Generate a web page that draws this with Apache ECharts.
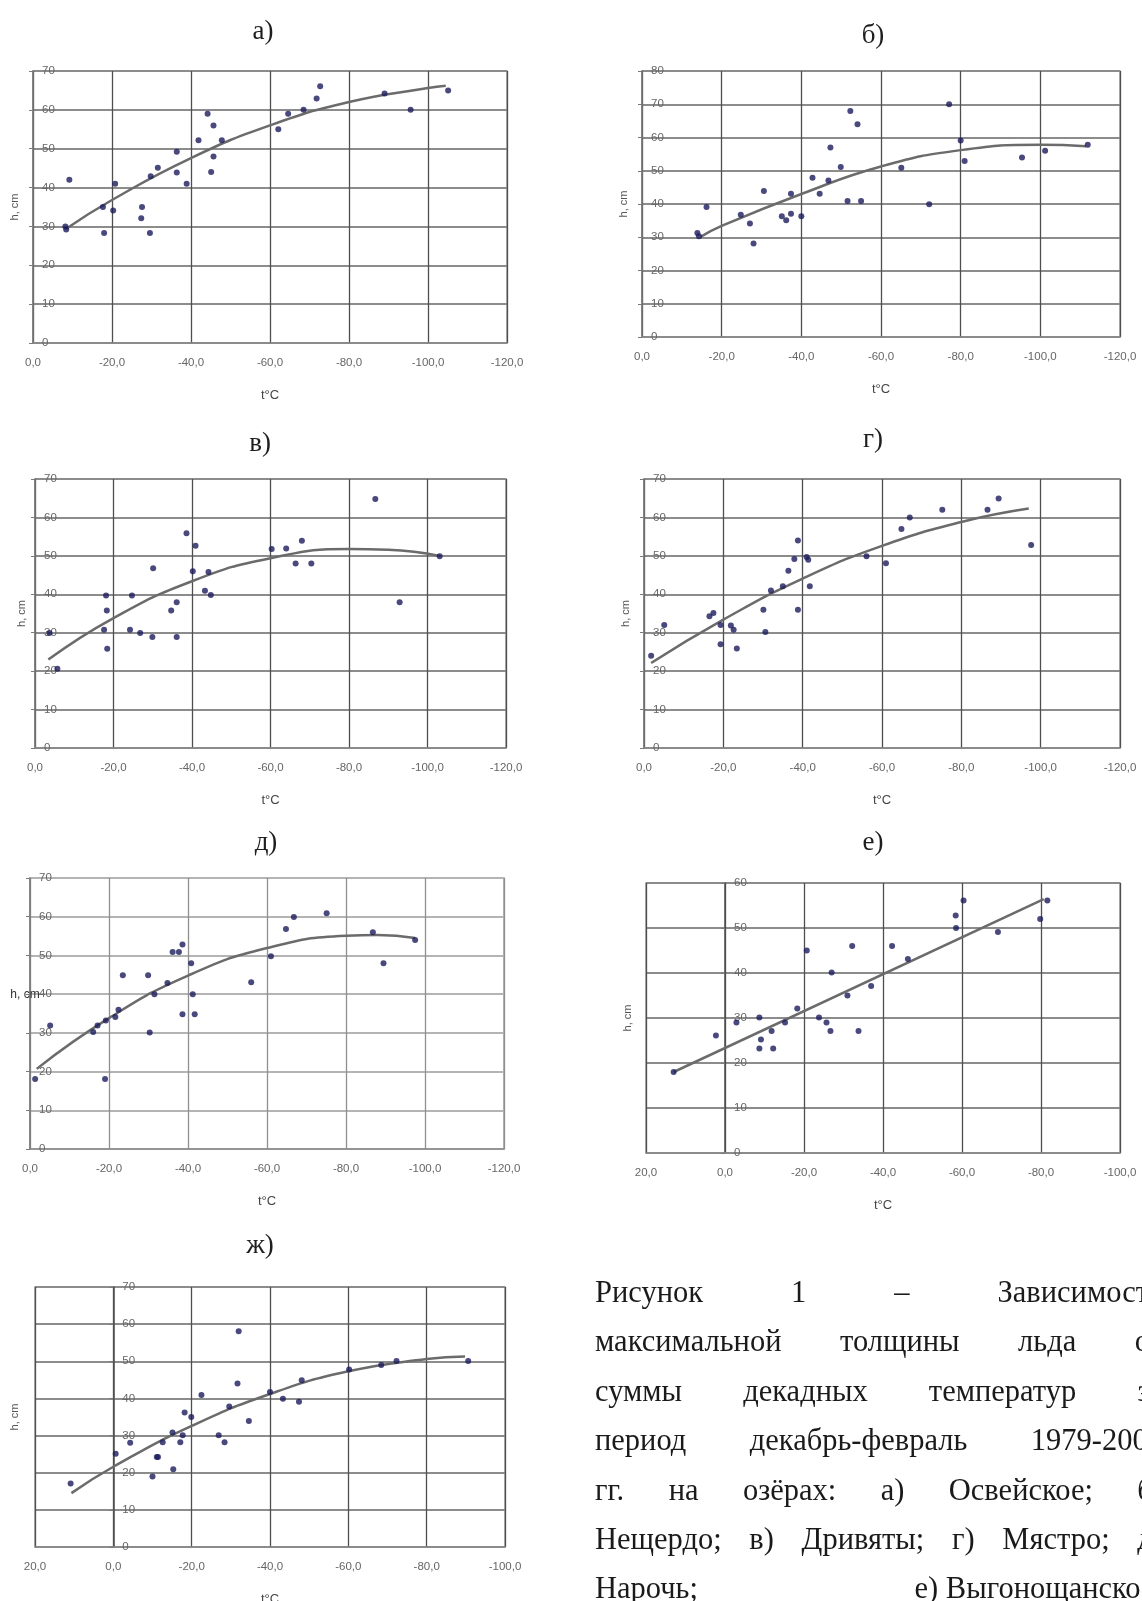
<!DOCTYPE html>
<html>
<head>
<meta charset="utf-8">
<script src="https://cdn.jsdelivr.net/npm/echarts@6/dist/echarts.min.js"></script>
<style>
  html, body { margin: 0; padding: 0; background: #fff; overflow: hidden; }
  #chart { position: absolute; left: 0; top: 0; width: 1142px; height: 1601px; }
  #caption {
    position: absolute; left: 595px; top: 1268px; width: 568px;
    font-family: "Liberation Serif", "Times New Roman", serif;
    font-size: 30.5px; color: #1a1a1a;
  }
  #caption div { height: 49.4px; line-height: 49.4px; text-align: justify; text-align-last: justify; }
  #caption span { display: inline-block; }
</style>
</head>
<body>
<div id="chart"></div>
<div id="caption">
  <div>Рисунок 1 – Зависимость</div>
  <div>максимальной толщины льда от</div>
  <div>суммы декадных температур за</div>
  <div>период декабрь-февраль 1979-2005</div>
  <div>гг. на озёрах: а) Освейское; б)</div>
  <div>Нещердо; в) Дривяты; г) Мястро; д)</div>
  <div>Нарочь; <span>е) Выгонощанское;</span></div>
</div>
<script>
// Max ice thickness h (cm) against the sum of ten-day air temperatures t (°C), Dec–Feb.

const osveiPts = [[-8.2,30.0],[-8.4,29.2],[-9.2,42.0],[-18.0,28.3],[-17.7,35.0],[-20.3,34.1],[-20.8,41.0],
  [-27.6,35.0],[-27.4,32.1],[-29.6,28.3],[-29.8,42.9],[-31.6,45.1],[-36.4,49.2],[-36.4,43.9],[-38.9,41.0],
  [-41.9,52.2],[-44.2,59.0],[-45.7,56.0],[-45.1,44.0],[-45.7,48.0],[-47.8,52.2],[-62.1,55.0],[-64.6,59.0],
  [-68.5,60.0],[-71.8,62.9],[-72.7,66.1],[-89.0,64.2],[-95.6,60.0],[-105.1,65.0]];
const osveiTrend = [[-8.4,29.4],[-20,36.8],[-40,47.6],[-60,56.0],[-80,62.0],[-100,65.6],[-104.5,66.2]];

const nescherdoPts = [[-13.9,31.3],[-14.3,30.3],[-16.2,39.1],[-24.8,36.8],[-27.1,34.1],[-28.0,28.1],[-30.6,43.9],
  [-35.1,36.3],[-36.2,35.1],[-37.4,37.1],[-37.4,43.1],[-40.0,36.3],[-42.8,47.9],[-44.6,43.1],[-46.8,47.1],
  [-47.3,57.0],[-49.9,51.1],[-51.6,40.9],[-52.3,68.0],[-54.1,64.0],[-55.0,40.9],[-65.1,50.9],[-72.1,39.9],
  [-77.1,70.0],[-80.0,59.1],[-81.0,52.9],[-95.4,54.0],[-101.2,56.0],[-111.9,57.8]];
const nescherdoTrend = [[-14.7,30.1],[-20,33.4],[-40,43.0],[-60,51.3],[-80,56.2],[-100,57.8],[-111.5,57.4]];

const drivyatyPts = [[-3.7,29.9],[-5.7,20.6],[-17.6,30.8],[-18.1,39.7],[-18.3,35.8],[-18.4,25.8],[-24.2,30.8],
  [-24.7,39.7],[-26.8,29.9],[-29.9,28.9],[-30.1,46.8],[-34.7,35.8],[-36.1,37.9],[-36.1,28.9],[-38.6,55.9],
  [-40.2,46.0],[-40.9,52.6],[-43.3,40.9],[-44.2,45.8],[-44.8,39.8],[-60.3,51.8],[-64.0,51.9],[-66.4,48.0],
  [-68.0,53.9],[-70.4,48.0],[-86.7,64.8],[-92.9,37.9],[-103.1,49.9]];
const drivyatyTrend = [[-3.4,23.0],[-20,33.8],[-40,43.4],[-60,49.4],[-80,51.8],[-90,51.6],[-103.1,50.0]];

const myastroPts = [[-1.8,24.0],[-5.1,32.0],[-16.5,34.3],[-17.5,35.1],[-19.3,32.0],[-19.3,27.0],[-21.9,31.9],
  [-22.6,30.8],[-23.4,25.9],[-30.1,36.0],[-30.6,30.2],[-32.0,41.0],[-35.0,42.1],[-36.4,46.1],[-37.9,49.2],
  [-38.8,54.0],[-38.8,36.0],[-41.0,49.7],[-41.4,49.0],[-41.8,42.1],[-56.1,49.9],[-61.0,48.1],[-64.9,57.0],
  [-67.0,60.0],[-75.2,62.0],[-86.6,62.0],[-89.4,64.9],[-97.6,52.8]];
const myastroTrend = [[-1.8,22.1],[-20,33.4],[-40,44.1],[-60,52.6],[-80,58.8],[-97,62.3]];

const narochPts = [[-1.3,18.1],[-5.1,31.9],[-16.0,30.2],[-17.1,31.9],[-19.0,18.1],[-19.2,33.2],[-21.6,34.1],
  [-22.4,36.0],[-23.5,44.9],[-29.9,44.9],[-30.3,30.1],[-31.5,40.0],[-34.8,42.9],[-36.1,50.9],[-37.7,50.9],
  [-38.6,52.8],[-38.6,34.8],[-40.8,48.0],[-41.2,40.0],[-41.7,34.8],[-56.0,43.1],[-61.0,49.8],[-64.8,56.8],
  [-66.8,59.9],[-75.1,60.9],[-86.8,56.0],[-89.5,48.0],[-97.5,54.0]];
const narochTrend = [[-1.7,20.7],[-20,33.8],[-40,44.8],[-60,51.9],[-80,55.1],[-88,55.3],[-97.5,54.5]];

const vygonPts = [[13.0,18.0],[2.3,26.1],[-2.9,29.0],[-8.7,30.1],[-9.1,25.2],[-8.7,23.2],[-11.8,27.1],
  [-12.2,23.2],[-15.2,29.0],[-18.3,32.1],[-20.7,45.0],[-23.8,30.1],[-25.7,29.0],[-26.7,27.1],[-27.0,40.1],
  [-31.0,35.0],[-32.2,46.0],[-33.8,27.1],[-37.0,37.1],[-42.3,46.0],[-46.3,43.1],[-58.4,52.8],[-58.5,50.0],
  [-60.4,56.1],[-69.1,49.1],[-79.8,52.0],[-81.6,56.1]];
const vygonTrend = [[13.0,18.0],[-80.7,56.4]];

const seventhPts = [[10.9,17.1],[-0.6,25.1],[-4.3,28.1],[-10.0,19.0],[-11.1,24.2],[-11.4,24.2],[-12.6,28.2],
  [-15.1,30.8],[-15.3,20.9],[-17.1,28.2],[-17.7,30.1],[-18.2,36.2],[-19.9,35.0],[-22.5,40.9],[-26.9,30.1],
  [-28.4,28.2],[-29.6,37.8],[-31.7,44.0],[-32.0,58.1],[-34.6,33.9],[-40.0,41.7],[-43.3,39.9],[-47.4,39.1],
  [-48.1,44.9],[-60.2,47.8],[-68.4,49.0],[-72.3,50.1],[-90.6,50.1]];
const seventhTrend = [[10.7,14.5],[0,21.6],[-20,32.6],[-40,41.2],[-60,47.3],[-80,50.6],[-89.8,51.3]];

const panelLabels = ['а)', 'б)', 'в)', 'г)', 'д)', 'е)', 'ж)'];
const xAxisTitle = 't°C';
const yAxisTitle = 'h, cm';

// Layout of each small plot: grid box, axis ranges, caption letter position
const panels = [
  { pts: osveiPts,     trend: osveiTrend,     box: [33, 71, 474, 272],   xMin: -120, xMax: 0,  yMax: 70, lab: [263, 32],   nameGap: 13 },
  { pts: nescherdoPts, trend: nescherdoTrend, box: [642, 71, 478, 266],  xMin: -120, xMax: 0,  yMax: 80, lab: [873, 36],   nameGap: 13 },
  { pts: drivyatyPts,  trend: drivyatyTrend,  box: [35, 479, 471, 269],  xMin: -120, xMax: 0,  yMax: 70, lab: [260, 444],  nameGap: 8 },
  { pts: myastroPts,   trend: myastroTrend,   box: [644, 479, 476, 269], xMin: -120, xMax: 0,  yMax: 70, lab: [873, 440],  nameGap: 13 },
  { pts: narochPts,    trend: narochTrend,    box: [30, 878, 474, 271],  xMin: -120, xMax: 0,  yMax: 70, lab: [266, 843],  flatName: [25, 995], light: true },
  { pts: vygonPts,     trend: vygonTrend,     box: [646, 883, 474, 270], xMin: -100, xMax: 20, yMax: 60, lab: [873, 843],  nameGap: 92 },
  { pts: seventhPts,   trend: seventhTrend,   box: [35, 1287, 470, 260], xMin: -100, xMax: 20, yMax: 70, lab: [260, 1246], nameGap: 93 }
];

const sans = '"Liberation Sans", Arial, sans-serif';
const grid = [], xAxis = [], yAxis = [], series = [], title = [];

panels.forEach((p, i) => {
  const vCol = p.light ? '#8f8f8f' : '#4e4e4e';
  const hCol = p.light ? '#b4b4b4' : '#8c8c8c';
  // the vertical h axis crosses the t axis at t = 0
  const yAxisShift = -p.box[2] * p.xMax / (p.xMax - p.xMin);
  grid.push({
    left: p.box[0], top: p.box[1], width: p.box[2], height: p.box[3],
    show: true, borderColor: '#9a9a9a', borderWidth: 1.5, outerBoundsMode: 'none'
  });
  title.push({
    text: panelLabels[i], left: p.lab[0], top: p.lab[1], padding: 0,
    textAlign: 'center', textVerticalAlign: 'middle',
    textStyle: { fontFamily: '"Liberation Serif", "Times New Roman", serif', fontSize: 27, fontWeight: 'normal', color: '#1e1e1e' }
  });
  if (p.flatName) {
    title.push({
      text: yAxisTitle, left: p.flatName[0], top: p.flatName[1], padding: 0,
      textAlign: 'center', textVerticalAlign: 'middle',
      textStyle: { fontFamily: sans, fontSize: 12, fontWeight: 'normal', color: '#333' }
    });
  }
  xAxis.push({
    gridIndex: i, type: 'value', min: p.xMin, max: p.xMax, interval: 20, inverse: true,
    name: xAxisTitle, nameLocation: 'middle', nameGap: 46,
    nameTextStyle: { fontFamily: sans, fontSize: 13, color: '#444' },
    axisLine: { onZero: false, lineStyle: { color: '#8a8a8a', width: 1.5 } },
    axisTick: { show: false },
    axisLabel: { margin: 14, fontFamily: sans, fontSize: 11.5, color: '#666',
      formatter: v => v.toFixed(1).replace('.', ',') },
    splitLine: { show: true, lineStyle: { color: vCol, width: 1.3 } }
  });
  yAxis.push({
    gridIndex: i, type: 'value', min: 0, max: p.yMax, interval: 10,
    offset: yAxisShift,
    name: p.flatName ? '' : yAxisTitle, nameLocation: 'middle', nameGap: p.nameGap || 0,
    nameRotate: 90,
    nameTextStyle: { fontFamily: sans, fontSize: 11, color: '#555' },
    axisLine: { show: true, onZero: false, lineStyle: { color: p.xMax > 0 ? vCol : '#7a7a7a', width: 1.5 } },
    axisTick: { show: true, length: 4, lineStyle: { color: '#7a7a7a' } },
    axisLabel: { inside: true, margin: 9, fontFamily: sans, fontSize: 11.5, color: '#666' },
    splitLine: { show: true, lineStyle: { color: hCol, width: 2 } }
  });
  series.push({
    type: 'line', xAxisIndex: i, yAxisIndex: i, data: p.trend,
    smooth: 0.5, showSymbol: false, silent: true,
    lineStyle: { color: '#6b6b6b', width: 2.5 }, z: 3
  });
  series.push({
    type: 'scatter', xAxisIndex: i, yAxisIndex: i, data: p.pts,
    symbolSize: 6, itemStyle: { color: '#1c1c5c' }, z: 4
  });
});

const chart = echarts.init(document.getElementById('chart'), null, { renderer: 'canvas' });
chart.setOption({ animation: false, backgroundColor: '#fff', title, grid, xAxis, yAxis, series });
</script>
</body>
</html>
